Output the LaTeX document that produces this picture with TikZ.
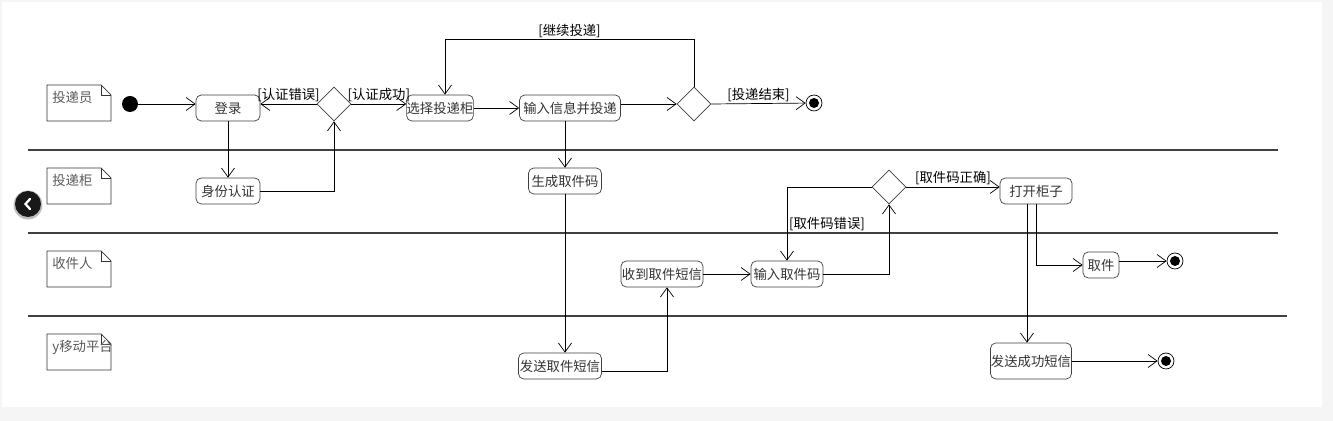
\documentclass[tikz,border=0pt]{standalone}
\usepackage{fontspec}
\newfontfamily\cjk{Noto Sans CJK SC}
\usetikzlibrary{shapes.geometric,arrows.meta}

\begin{document}
\begin{tikzpicture}[x=0.02cm,y=-0.02cm,thin,
	>={Straight Barb[length=0.18cm,width=0.26cm]},
	every node/.style = {font=\cjk\fontsize{7.6}{9}\selectfont},
	act node/.style = {rectangle,rounded corners=3pt,draw=black!75,text=black!80,inner sep=0pt,minimum height=0.52cm},
	choice node/.style = {diamond,draw=black!75,inner sep=0pt,minimum size=0.68cm},
	start node/.style = {circle,fill=black,inner sep=0pt,minimum size=0.32cm},
	end node/.style = {circle,draw,fill=white,inner sep=0pt,minimum size=0.32cm,
		path picture={\fill[black] (path picture bounding box.center) circle (0.1cm);}},
	guard/.style = {above,inner sep=1pt}]
	
	\useasboundingbox (0,0) rectangle (1333,421);
	\fill[black!4] (0,0) rectangle (1333,421);
	\fill[white] (2,2) rectangle (1322,407);
	
	% lanes
	\foreach \y/\e in {150/1278,233/1278,316/1287}
		\draw[line width=1.2pt,black!75] (28,\y) -- (\e,\y);
	\foreach \y/\lane in {85/投递员,168/投递柜,251/收件人,334/y移动平台} {
		\draw[black!80] (47,\y) -- (101,\y) -- (111,\y+10) -- (111,\y+36) -- (47,\y+36) -- cycle;
		\draw[black!80] (101,\y) -- (101,\y+10) -- (111,\y+10);
		\node[anchor=north west,text=black!65,inner sep=0pt] (lane\y) at (52,\y+6) {\lane};
	}
	
	\node[start node] (0) at (130,104) {};
	\node[act node,minimum width=1.28cm] (1) at (228,108) {登录};
	\node[choice node] (d1) at (334,104) {};
	\node[act node,minimum width=1.28cm] (2) at (440,108) {选择投递柜};
	\node[act node,minimum width=2.02cm] (3) at (570,108) {输入信息并投递};
	\node[choice node] (d2) at (694,104) {};
	\node[end node] (f1) at (814,103) {};
	\node[act node,minimum width=1.28cm] (4) at (228,191) {身份认证};
	\node[act node,minimum width=1.46cm] (5) at (565,181) {生成取件码};
	\node[act node,minimum width=1.66cm] (6) at (560,366) {发送取件短信};
	\node[act node,minimum width=1.64cm] (7) at (662,274) {收到取件短信};
	\node[act node,minimum width=1.44cm] (8) at (787,274) {输入取件码};
	\node[choice node] (d3) at (889,187) {};
	\node[act node,minimum width=1.44cm] (9) at (1036,191) {打开柜子};
	\node[act node,minimum width=0.72cm] (10) at (1101,265) {取件};
	\node[act node,minimum width=1.62cm,minimum height=0.72cm] (11) at (1031,361) {发送成功短信};
	\node[end node] (f2) at (1175,261) {};
	\node[end node] (f3) at (1166,361) {};
	
	\draw[->] (0) -- (0 -| 1.west);
	\draw[->] (d1.west) -- node[guard] {[认证错误]} (d1.west -| 1.east);
	\draw[->] (d1.east) -- node[guard] {[认证成功]} (d1.east -| 2.west);
	\draw[->] (2) -- (3);
	\draw[->] (3.east |- d2) -- (d2.west);
	\draw[->] (d2.east) -- node[guard] {[投递结束]} (f1);
	\draw[->] (d2.north) -- ++(0,-47) -| node[pos=0.25,guard] {[继续投递]} ([xshift=0.1cm]2.north);
	\draw[->] (1) -- (4);
	\draw[->] (4) -| (d1);
	\draw[->] (3.south -| 5) -- (5);
	\draw[->] (5.south) -- (5.south |- 6.north);
	\draw[->] ([yshift=-0.1cm]6.east) -| ([xshift=0.1cm]7.south);
	\draw[->] (7) -- (8);
	\draw[->] (8) -| (d3);
	\draw[->] (d3.west) -| node[pos=0.75,right,inner sep=1pt] {[取件码错误]} (8);
	\draw[->] (d3.east) -- node[guard] {[取件码正确]} (d3.east -| 9.west);
	\draw[->] (9) |- (10);
	\draw[->] ([xshift=-0.18cm]9.south) -- ([xshift=-0.18cm]9.south |- 11.north);
	\draw[->] (10.east |- f2) -- (f2);
	\draw[->] (11.east |- f3) -- (f3);
	
	% scroll button
	\fill[black!25] (28,205) circle (0.29cm);
	\fill[black!90] (28,204) circle (0.26cm);
	\draw[white,line width=1.3pt,line cap=round] (30,199) -- (25.5,204) -- (30,209);
	
\end{tikzpicture}
\end{document}
